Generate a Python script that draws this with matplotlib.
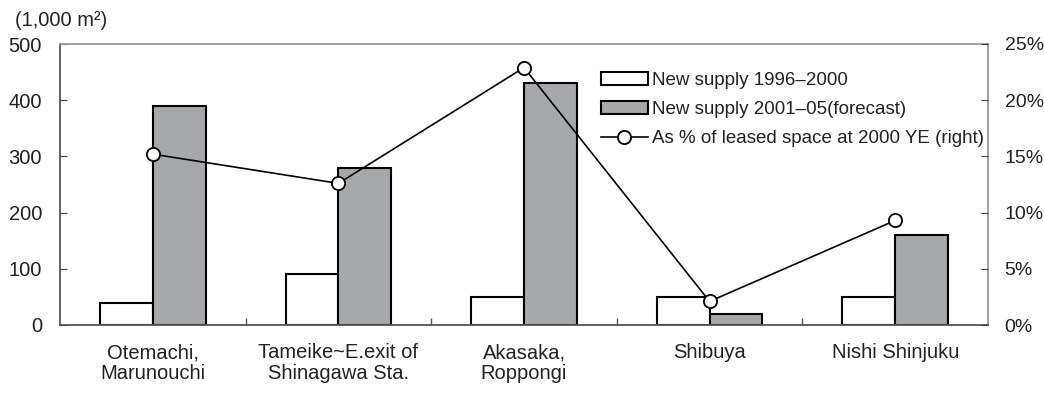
import matplotlib
matplotlib.use("Agg")
import matplotlib.pyplot as plt
import numpy as np
from matplotlib.patches import Patch
from matplotlib.lines import Line2D

plt.rcParams['font.family'] = ['Liberation Sans', 'DejaVu Sans']

areas = ["Otemachi,\nMarunouchi", "Tameike~E.exit of\nShinagawa Sta.",
         "Akasaka,\nRoppongi", "Shibuya", "Nishi Shinjuku"]
supply_1996_2000 = [40, 90, 50, 50, 50]
supply_2001_05 = [390, 280, 430, 20, 160]
pct_leased = [15.2, 12.6, 22.9, 2.1, 9.3]

left_ticks = [0, 100, 200, 300, 400, 500]
right_ticks = [0, 5, 10, 15, 20, 25]

text_color = "#222222"
gray_fill = "#a7a8ab"

fig = plt.figure(figsize=(10.44, 3.93), dpi=100)
ax = fig.add_axes([60/1044, 1-325/393, 928/1044, 281/393])
x = np.arange(len(areas))
w = 0.285

ax.bar(x - w/2, supply_1996_2000, width=w, color="white", edgecolor="black",
       linewidth=1.5, zorder=2)
ax.bar(x + w/2, supply_2001_05, width=w, color=gray_fill, edgecolor="black",
       linewidth=1.5, zorder=2)

ax.set_xlim(-0.5, len(areas) - 0.5)
ax.set_ylim(0, 500)
ax.set_yticks(left_ticks)
ax.set_xticks(x)
ax.set_xticklabels(areas, fontsize=14.5, color=text_color, linespacing=1.15)
ax.tick_params(axis='x', length=0, pad=13)
ax.set_xticks(np.arange(0.5, len(areas) - 0.5, 1.0), minor=True)
ax.tick_params(axis='x', which='minor', direction='in', length=5,
               color="#555555", width=1)
ax.tick_params(axis='y', direction='in', length=5, labelsize=14.5,
               labelcolor=text_color, pad=13, color="#444444")

for side, col in [('left', '#555555'), ('bottom', '#555555'),
                  ('top', '#999999'), ('right', '#999999')]:
    ax.spines[side].set_color(col)
    ax.spines[side].set_linewidth(1.3)

ax2 = ax.twinx()
ax2.set_ylim(0, 25)
ax2.set_yticks(right_ticks)
ax2.set_yticklabels([f"{t}%" for t in right_ticks])
ax2.tick_params(axis='y', direction='in', length=5, labelsize=14,
                labelcolor=text_color, pad=12, color="#444444")
for side in ['left', 'bottom', 'top', 'right']:
    ax2.spines[side].set_visible(False)
ax2.plot(x, pct_leased, color="black", linewidth=1.2, marker='o',
         markersize=9.5, markerfacecolor="white", markeredgecolor="black",
         markeredgewidth=1.3, zorder=3)

fig.text(15/1044, 1-20/393, "(1,000 m\u00b2)", fontsize=14.5, color=text_color,
         va='center', ha='left')

handles = [
    Patch(facecolor="white", edgecolor="black", linewidth=1.5),
    Patch(facecolor=gray_fill, edgecolor="black", linewidth=1.5),
    Line2D([0], [0], color="black", linewidth=1.2, marker='o', markersize=9.5,
           markerfacecolor="white", markeredgecolor="black", markeredgewidth=1.3),
]
labels = ["New supply 1996\u20132000", "New supply 2001\u201305(forecast)",
          "As % of leased space at 2000 YE (right)"]
leg = ax2.legend(handles, labels, loc='upper left',
                 bbox_to_anchor=(601/1044, 1-72/393),
                 bbox_transform=fig.transFigure, frameon=False, fontsize=13.5,
                 handlelength=2.5, handleheight=0.65, handletextpad=0.2,
                 labelspacing=0.65, borderaxespad=0, borderpad=0)
for t in leg.get_texts():
    t.set_color(text_color)

fig.savefig("out.png", dpi=100)
